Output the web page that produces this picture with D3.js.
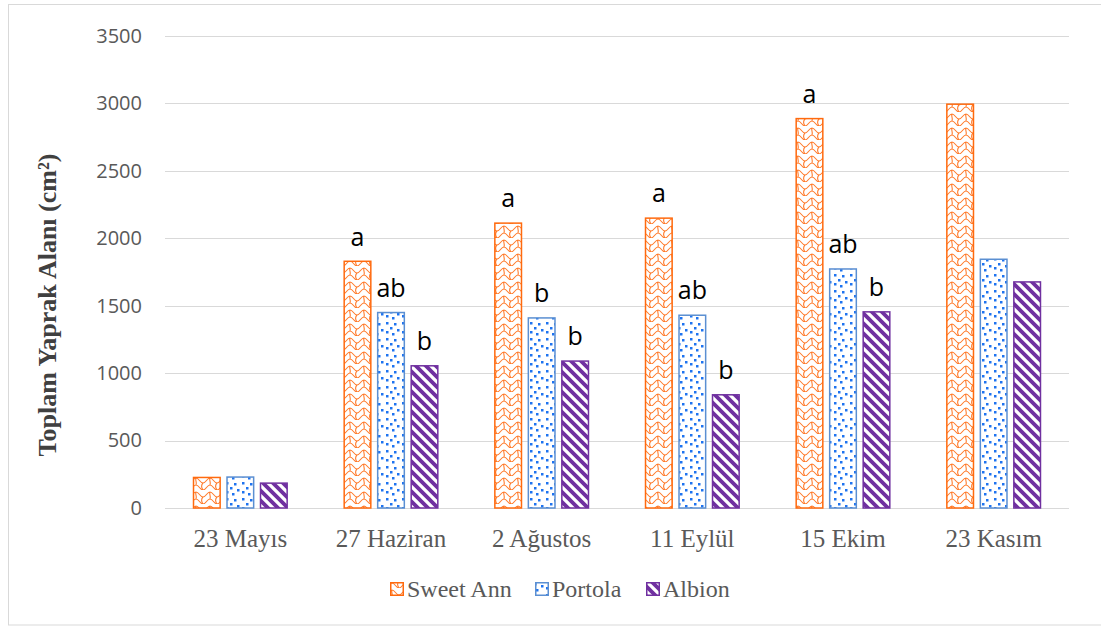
<!DOCTYPE html>
<html><head><meta charset="utf-8">
<script src="https://cdn.jsdelivr.net/npm/d3@7"></script>
<style>body{margin:0;background:#fff}svg{display:block}</style>
</head><body>
<svg id="c" width="1101" height="626"></svg>
<script>
const categories = ["23 Mayıs","27 Haziran","2 Ağustos","11 Eylül","15 Ekim","23 Kasım"];
const seriesNames = ["Sweet Ann","Portola","Albion"];
const sweetAnn = [232, 1835, 2118, 2155, 2893, 3000];
const portola  = [235, 1455, 1415, 1435, 1778, 1850];
const albion   = [190, 1060, 1095, 845, 1460, 1682];
const lettersSweetAnn = ["", "a", "a", "a", "a", ""];
const lettersPortola  = ["", "ab", "b", "ab", "ab", ""];
const lettersAlbion   = ["", "b", "b", "b", "b", ""];
const yTicks = [0,500,1000,1500,2000,2500,3000,3500];

const seriesValues = [sweetAnn, portola, albion];
const seriesLetters = [lettersSweetAnn, lettersPortola, lettersAlbion];
const strokeCol = ["#FF6A0E", "#5B8FD2", "#7030A0"];

const svg = d3.select("#c");
const defs = svg.append("defs");

// Orange shingle/wave pattern
const p0 = defs.append("pattern").attr("id","pat0").attr("patternUnits","userSpaceOnUse")
  .attr("width",14).attr("height",14);
p0.append("rect").attr("width",14).attr("height",14).attr("fill","#fff");
p0.append("path").attr("d","M0,2 C3,2 4,7 7,7 C10,7 11,2 14,2 M7,7 C5,9 5,11 7,14 M0,9 C3,9 4,14 7,14 M7,14 C10,14 11,9 14,9 M0,2 C-1,4 1,6 0,9 M14,2 C13,4 15,6 14,9")
  .attr("fill","none").attr("stroke","#FF7A2A").attr("stroke-width",1.1);
// Blue dots pattern
const p1 = defs.append("pattern").attr("id","pat1").attr("patternUnits","userSpaceOnUse")
  .attr("width",16).attr("height",16);
p1.append("rect").attr("width",16).attr("height",16).attr("fill","#fff");
[[2,2],[10,3],[6,7],[13,9],[2,11],[8,13]].forEach(d=>{
  p1.append("rect").attr("x",d[0]).attr("y",d[1]).attr("width",2.5).attr("height",2.5).attr("fill","#1E73F0");
});
// Purple diagonal stripes
const p2 = defs.append("pattern").attr("id","pat2").attr("patternUnits","userSpaceOnUse")
  .attr("width",10).attr("height",10);
p2.append("rect").attr("width",10).attr("height",10).attr("fill","#fff");
p2.append("path").attr("d","M-2,-2 L12,12 M-2,8 L2,12 M8,-2 L12,2")
  .attr("stroke","#7030A0").attr("stroke-width",3.8);

// frame
svg.append("rect").attr("x",8.5).attr("y",4.5).attr("width",1100).attr("height",620.5)
  .attr("fill","none").attr("stroke","#D9D9D9").attr("stroke-width",1);

const y = d3.scaleLinear().domain([0,3500]).range([508,36]);
const x0 = d3.scaleBand().domain(categories).range([165,1069]);
const x1 = d3.scaleBand().domain(seriesNames).range([-50.25,50.25]).paddingInner(0.16).paddingOuter(0.08);

// gridlines
svg.append("g").selectAll("line").data(yTicks).join("line")
  .attr("x1",165).attr("x2",1069)
  .attr("y1",d=>Math.round(y(d))+0.5).attr("y2",d=>Math.round(y(d))+0.5)
  .attr("stroke","#D9D9D9").attr("stroke-width",1);

// y axis labels
const yAxis = d3.axisLeft(y).tickValues(yTicks).tickSize(0).tickPadding(0).tickFormat(d3.format("d"));
const gy = svg.append("g").attr("transform","translate(142,0)").call(yAxis);
gy.select(".domain").remove();
gy.selectAll("text").attr("font-family","'Open Sans', sans-serif").attr("font-size",20)
  .attr("fill","#595959");

// x axis labels
const xAxis = d3.axisBottom(x0).tickSize(0).tickPadding(0);
const gx = svg.append("g").attr("transform","translate(0,532)").call(xAxis);
gx.select(".domain").remove();
gx.selectAll("text").attr("font-family","'Liberation Serif', serif").attr("font-size",25)
  .attr("fill","#595959").attr("dy","0.6em");

// bars
seriesNames.forEach((s,i)=>{
  const g = svg.append("g");
  g.selectAll("rect").data(categories).join("rect")
    .attr("x",c=>x0(c)+x0.bandwidth()/2+x1(s)+0.75)
    .attr("y",(c,j)=>y(seriesValues[i][j])+0.75)
    .attr("width",x1.bandwidth()-1.5)
    .attr("height",(c,j)=>y(0)-y(seriesValues[i][j])-0.75)
    .attr("fill",`url(#pat${i})`).attr("stroke",strokeCol[i]).attr("stroke-width",1.5);
  g.selectAll("text").data(categories).join("text")
    .attr("x",c=>x0(c)+x0.bandwidth()/2+x1(s)+x1.bandwidth()/2)
    .attr("y",(c,j)=>y(seriesValues[i][j])-15)
    .attr("text-anchor","middle")
    .attr("font-family","'Open Sans', sans-serif").attr("font-size",25)
    .attr("fill","#000")
    .text((c,j)=>seriesLetters[i][j]);
});

// y title
svg.append("text").attr("transform","translate(56,305) rotate(-90)")
  .attr("text-anchor","middle").attr("font-family","'Liberation Serif', serif")
  .attr("font-weight","bold").attr("font-size",26).attr("fill","#404040")
  .text("Toplam Yaprak Alanı (cm²)");

// legend
const legX = [390, 535, 646];
seriesNames.forEach((s,i)=>{
  svg.append("rect").attr("x",legX[i]+0.75).attr("y",582.75).attr("width",12.5).attr("height",12.5)
    .attr("fill",`url(#pat${i})`).attr("stroke",strokeCol[i]).attr("stroke-width",1.5);
  svg.append("text").attr("x",legX[i]+17).attr("y",597)
    .attr("font-family","'Liberation Serif', serif").attr("font-size",24).attr("fill","#595959")
    .text(s);
});
</script>
</body></html>
